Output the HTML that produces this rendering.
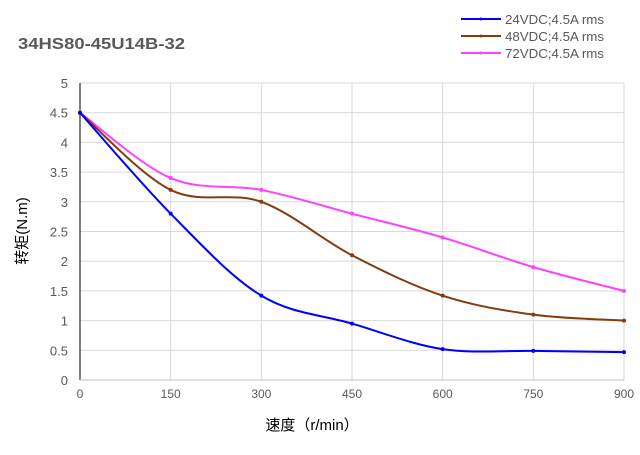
<!DOCTYPE html>
<html><head><meta charset="utf-8"><style>
body{margin:0;background:#fff;width:640px;height:450px;overflow:hidden}
svg text{font-family:"Liberation Sans","Noto Sans CJK SC",sans-serif}
</style></head><body>
<svg id="s" width="640" height="450" xmlns="http://www.w3.org/2000/svg">
<rect width="640" height="450" fill="#fff"/>
<text x="18" y="49" font-size="16" font-weight="bold" fill="#595959" textLength="167" lengthAdjust="spacingAndGlyphs">34HS80-45U14B-32</text>
<g id="grid" stroke="#d9d9d9" stroke-width="1"></g>
<line x1="80" y1="83" x2="80" y2="380" stroke="#000" stroke-width="1"/>
<line x1="80" y1="380" x2="624" y2="380" stroke="#bfbfbf" stroke-width="1"/>
<g id="ylab" font-size="13" fill="#595959" text-anchor="end"></g>
<g id="xlab" font-size="12" fill="#595959" text-anchor="middle"></g>
<text x="0" y="0" font-size="15" fill="#000" transform="translate(27,231) rotate(-90)" text-anchor="middle">转矩(N.m)</text>
<text x="312" y="430" font-size="15" fill="#000" text-anchor="middle">速度（r/min）</text>
<g id="series"></g>
<g font-size="13" fill="#595959">
<line x1="461" y1="19" x2="501" y2="19" stroke="#0000ff" stroke-width="2"/><circle cx="481" cy="19" r="1.5" fill="#0000ff"/>
<text x="505" y="24" textLength="99" lengthAdjust="spacingAndGlyphs">24VDC;4.5A rms</text>
<line x1="461" y1="36" x2="501" y2="36" stroke="#843c0c" stroke-width="2"/><circle cx="481" cy="36" r="1.5" fill="#843c0c"/>
<text x="505" y="41" textLength="99" lengthAdjust="spacingAndGlyphs">48VDC;4.5A rms</text>
<line x1="461" y1="53" x2="501" y2="53" stroke="#ff40ff" stroke-width="2"/><circle cx="481" cy="53" r="1.5" fill="#ff40ff"/>
<text x="505" y="58" textLength="99" lengthAdjust="spacingAndGlyphs">72VDC;4.5A rms</text>
</g>
</svg>
<script>
var NS="http://www.w3.org/2000/svg";
function X(v){return 80+v/900*544}
function Y(v){return 380-v/5*297}
function el(t,a,p){var e=document.createElementNS(NS,t);for(var k in a)e.setAttribute(k,a[k]);p.appendChild(e);return e}
var g=document.getElementById('grid'),yl=document.getElementById('ylab'),xl=document.getElementById('xlab');
for(var i=1;i<=10;i++){var y=Y(i/2);el('line',{x1:80,x2:624,y1:y,y2:y},g);}
for(var i=0;i<=10;i++){var t=el('text',{x:68,y:Y(i/2)+5},yl);t.textContent=String(i/2);}
for(var i=1;i<=6;i++){var x=X(i*150);el('line',{x1:x,x2:x,y1:83,y2:380},g);}
for(var i=0;i<=6;i++){var t=el('text',{x:X(i*150),y:398},xl);t.textContent=String(i*150);}
var data=[["#0000ff",[4.5,2.8,1.42,0.95,0.52,0.49,0.47]],["#843c0c",[4.5,3.2,3.0,2.1,1.42,1.1,1.0]],["#ff40ff",[4.5,3.4,3.2,2.8,2.4,1.9,1.5]]];
var sg=document.getElementById('series');
data.slice().reverse().forEach(function(d){
 var p=d[1].map(function(v,i){return [X(i*150),Y(v)]});
 var s="M"+p[0][0]+","+p[0][1];
 for(var i=0;i<p.length-1;i++){
  var p0=p[i-1]||p[i],p1=p[i],p2=p[i+1],p3=p[i+2]||p2,k=6;
  s+=" C"+(p1[0]+(p2[0]-p0[0])/k)+","+(p1[1]+(p2[1]-p0[1])/k)+" "+(p2[0]-(p3[0]-p1[0])/k)+","+(p2[1]-(p3[1]-p1[1])/k)+" "+p2[0]+","+p2[1];
 }
 el('path',{d:s,fill:"none",stroke:d[0],"stroke-width":2},sg);
 p.forEach(function(q){el('circle',{cx:q[0],cy:q[1],r:2,fill:d[0]},sg)});
});
</script>
</body></html>
